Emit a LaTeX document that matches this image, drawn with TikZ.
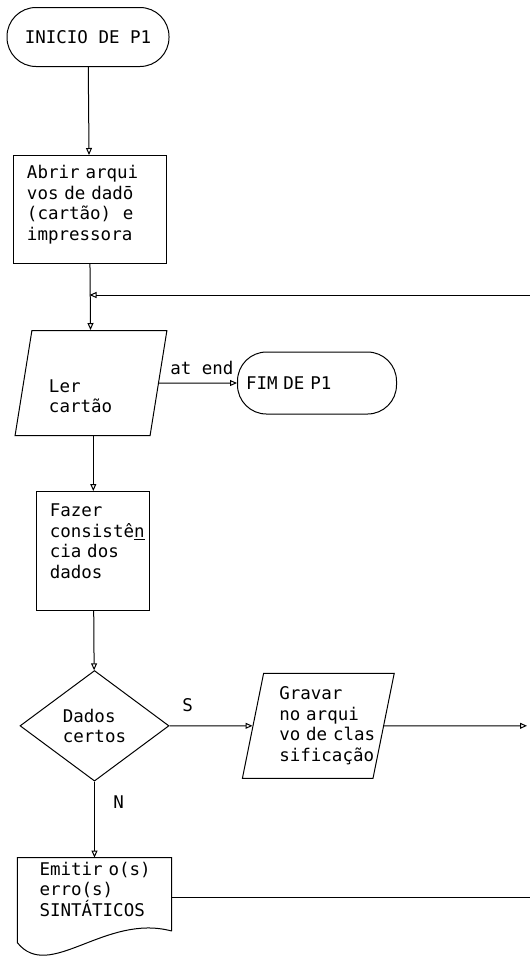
\documentclass[tikz,border=0pt]{standalone}
\usepackage{fontspec}
\setmainfont{DejaVu Sans Mono}[WordSpace={1,0,0}]
\usetikzlibrary{shapes.geometric, arrows.meta, positioning}
\hyphenpenalty=10000
\exhyphenpenalty=10000
\tikzstyle{terminal} = [rectangle, rounded corners=29pt, minimum width=162pt, minimum height=59pt, draw=black, line width=1pt]
\tikzstyle{process} = [rectangle, draw=black, line width=1pt, align=left]
\tikzstyle{io} = [trapezium, trapezium left angle=79, trapezium right angle=101, trapezium stretches=true, minimum width=152pt, minimum height=105pt, draw=black, line width=1pt, align=left]
\tikzstyle{decision} = [diamond, minimum width=149pt, minimum height=102pt, draw=black, line width=1pt, align=left]
\tikzstyle{docbox} = [rectangle, minimum width=154pt, minimum height=73pt, align=left]
\tikzstyle{arrow} = [line width=1pt, -{Triangle[open, length=7pt, width=6pt]}]
\tikzstyle{wire} = [line width=1pt]

\begin{document}
\begin{tikzpicture}[x=1pt, y=-1pt, font=\fontsize{17.5}{20.5}\selectfont]
        \useasboundingbox (0,0) rectangle (530,956);
        % Nodes
        \node (inicio) [terminal] at (88,37) {INICIO DE P1};
        \node (abrir) [process, below=88pt of inicio, xshift=1.5pt, text width=125pt, text depth=75pt, minimum width=153pt, minimum height=108pt] {Abrir arqui\\vos de dadō\\(cartão)~~e\\impressora};
        \node (ler) [io, below=66pt of abrir, xshift=1.5pt, text width=84pt, text height=39pt] {Ler\\cartão};
        \node (fim) [terminal, right=78pt of ler, minimum width=159pt, minimum height=62pt, text width=142pt, align=left] {FIM~DE~P1};
        \node (fazer) [process, below=55pt of ler, xshift=2.3pt, text width=87pt, text depth=81pt, minimum width=113pt, minimum height=119pt] {Fazer\\consistê\underline{n}\\cia~dos\\dados};
        \node (decisao) [decision, below=59pt of fazer, xshift=1.2pt] {Dados\\certos};
        \node (gravar) [io, right=83pt of decisao, text width=78pt] {Gravar\\no~arqui\\vo~de~clas\\sificação};
        \node (emitir) [docbox, below=76pt of decisao, text width=110pt, text depth=51pt] {Emitir~o(s)\\erro(s)\\SINTÁTICOS};

        % Free ends
        \coordinate (retorno) at (530,295);
        \coordinate (juncao) at (abrir.south |- retorno);
        \coordinate (saida) at ([xshift=-3pt]gravar.east -| retorno);
        \coordinate (erros) at (530,897);

        % Document outline
        \draw [wire] (emitir.south east) -- (emitir.north east) -- (emitir.north west) -- ++(0,85)
            .. controls ++(32,40) and ++(-67,-18) .. (emitir.south east);

        % Arrows
        \draw [arrow] (inicio) -- (abrir);
        \draw [arrow] (abrir) -- (ler);
        \draw [arrow] (retorno) -- (juncao);
        \draw [arrow] (ler) -- node[above=4pt, pos=0.55] {at~end} (fim);
        \draw [arrow] (ler.south -| fazer.north) -- (fazer);
        \draw [arrow] (fazer) -- (decisao);
        \draw [arrow] (decisao) -- node[above=10pt, pos=0.22] {S} (gravar);
        \draw [arrow] (gravar) -- (saida);
        \draw [arrow] (decisao) -- node[right=15pt, pos=0.27] {N} (emitir);
        \draw [wire] (emitir.east |- erros) -- (erros);

    \end{tikzpicture}
\end{document}
